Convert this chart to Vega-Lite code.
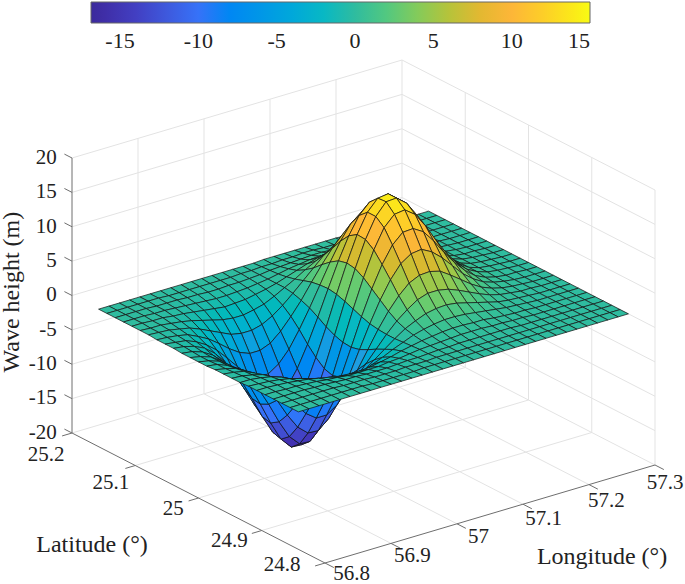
{"$schema":"https://vega.github.io/schema/vega-lite/v6.json","width":685,"height":584,"padding":0,"autosize":{"type":"none"},"background":"white","config":{"view":{"stroke":null},"text":{"font":"Liberation Serif","fontSize":21,"color":"#222222"}},
"datasets":{
"frame":[
{"kind":"grid","lon1":56.8,"lat1":25.2,"z1":-15,"lon2":57.3,"lat2":25.2,"z2":-15},{"kind":"grid","lon1":56.8,"lat1":25.2,"z1":-10,"lon2":57.3,"lat2":25.2,"z2":-10},{"kind":"grid","lon1":56.8,"lat1":25.2,"z1":-5,"lon2":57.3,"lat2":25.2,"z2":-5},{"kind":"grid","lon1":56.8,"lat1":25.2,"z1":0,"lon2":57.3,"lat2":25.2,"z2":0},{"kind":"grid","lon1":56.8,"lat1":25.2,"z1":5,"lon2":57.3,"lat2":25.2,"z2":5},{"kind":"grid","lon1":56.8,"lat1":25.2,"z1":10,"lon2":57.3,"lat2":25.2,"z2":10},{"kind":"grid","lon1":56.8,"lat1":25.2,"z1":15,"lon2":57.3,"lat2":25.2,"z2":15},{"kind":"grid","lon1":56.8,"lat1":25.2,"z1":20,"lon2":57.3,"lat2":25.2,"z2":20},
{"kind":"grid","lon1":57.3,"lat1":25.2,"z1":-15,"lon2":57.3,"lat2":24.8,"z2":-15},{"kind":"grid","lon1":57.3,"lat1":25.2,"z1":-10,"lon2":57.3,"lat2":24.8,"z2":-10},{"kind":"grid","lon1":57.3,"lat1":25.2,"z1":-5,"lon2":57.3,"lat2":24.8,"z2":-5},{"kind":"grid","lon1":57.3,"lat1":25.2,"z1":0,"lon2":57.3,"lat2":24.8,"z2":0},{"kind":"grid","lon1":57.3,"lat1":25.2,"z1":5,"lon2":57.3,"lat2":24.8,"z2":5},{"kind":"grid","lon1":57.3,"lat1":25.2,"z1":10,"lon2":57.3,"lat2":24.8,"z2":10},{"kind":"grid","lon1":57.3,"lat1":25.2,"z1":15,"lon2":57.3,"lat2":24.8,"z2":15},{"kind":"grid","lon1":57.3,"lat1":25.2,"z1":20,"lon2":57.3,"lat2":24.8,"z2":20},
{"kind":"grid","lon1":56.9,"lat1":25.2,"z1":-20,"lon2":56.9,"lat2":25.2,"z2":20},{"kind":"grid","lon1":57,"lat1":25.2,"z1":-20,"lon2":57,"lat2":25.2,"z2":20},{"kind":"grid","lon1":57.1,"lat1":25.2,"z1":-20,"lon2":57.1,"lat2":25.2,"z2":20},{"kind":"grid","lon1":57.2,"lat1":25.2,"z1":-20,"lon2":57.2,"lat2":25.2,"z2":20},{"kind":"grid","lon1":57.3,"lat1":25.2,"z1":-20,"lon2":57.3,"lat2":25.2,"z2":20},
{"kind":"grid","lon1":57.3,"lat1":25.1,"z1":-20,"lon2":57.3,"lat2":25.1,"z2":20},{"kind":"grid","lon1":57.3,"lat1":25,"z1":-20,"lon2":57.3,"lat2":25,"z2":20},{"kind":"grid","lon1":57.3,"lat1":24.9,"z1":-20,"lon2":57.3,"lat2":24.9,"z2":20},{"kind":"grid","lon1":57.3,"lat1":24.8,"z1":-20,"lon2":57.3,"lat2":24.8,"z2":20},
{"kind":"grid","lon1":56.9,"lat1":25.2,"z1":-20,"lon2":56.9,"lat2":24.8,"z2":-20},{"kind":"grid","lon1":57,"lat1":25.2,"z1":-20,"lon2":57,"lat2":24.8,"z2":-20},{"kind":"grid","lon1":57.1,"lat1":25.2,"z1":-20,"lon2":57.1,"lat2":24.8,"z2":-20},{"kind":"grid","lon1":57.2,"lat1":25.2,"z1":-20,"lon2":57.2,"lat2":24.8,"z2":-20},{"kind":"grid","lon1":57.3,"lat1":25.2,"z1":-20,"lon2":57.3,"lat2":24.8,"z2":-20},
{"kind":"grid","lon1":56.8,"lat1":25.2,"z1":-20,"lon2":57.3,"lat2":25.2,"z2":-20},{"kind":"grid","lon1":56.8,"lat1":25.1,"z1":-20,"lon2":57.3,"lat2":25.1,"z2":-20},{"kind":"grid","lon1":56.8,"lat1":25,"z1":-20,"lon2":57.3,"lat2":25,"z2":-20},{"kind":"grid","lon1":56.8,"lat1":24.9,"z1":-20,"lon2":57.3,"lat2":24.9,"z2":-20},
{"kind":"axis","lon1":56.8,"lat1":25.2,"z1":-20,"lon2":56.8,"lat2":25.2,"z2":20},{"kind":"axis","lon1":56.8,"lat1":25.2,"z1":-20,"lon2":56.8,"lat2":24.8,"z2":-20},{"kind":"axis","lon1":56.8,"lat1":24.8,"z1":-20,"lon2":57.3,"lat2":24.8,"z2":-20},
{"kind":"axis","lon1":56.8,"lat1":25.2,"z1":-20,"lon2":56.8,"lat2":25.212,"z2":-20},{"kind":"axis","lon1":56.8,"lat1":25.2,"z1":-15,"lon2":56.8,"lat2":25.212,"z2":-15},{"kind":"axis","lon1":56.8,"lat1":25.2,"z1":-10,"lon2":56.8,"lat2":25.212,"z2":-10},{"kind":"axis","lon1":56.8,"lat1":25.2,"z1":-5,"lon2":56.8,"lat2":25.212,"z2":-5},{"kind":"axis","lon1":56.8,"lat1":25.2,"z1":0,"lon2":56.8,"lat2":25.212,"z2":0},{"kind":"axis","lon1":56.8,"lat1":25.2,"z1":5,"lon2":56.8,"lat2":25.212,"z2":5},{"kind":"axis","lon1":56.8,"lat1":25.2,"z1":10,"lon2":56.8,"lat2":25.212,"z2":10},{"kind":"axis","lon1":56.8,"lat1":25.2,"z1":15,"lon2":56.8,"lat2":25.212,"z2":15},{"kind":"axis","lon1":56.8,"lat1":25.2,"z1":20,"lon2":56.8,"lat2":25.212,"z2":20},
{"kind":"axis","lon1":56.8,"lat1":25.2,"z1":-20,"lon2":56.785,"lat2":25.2,"z2":-20},{"kind":"axis","lon1":56.8,"lat1":25.1,"z1":-20,"lon2":56.785,"lat2":25.1,"z2":-20},{"kind":"axis","lon1":56.8,"lat1":25,"z1":-20,"lon2":56.785,"lat2":25,"z2":-20},{"kind":"axis","lon1":56.8,"lat1":24.9,"z1":-20,"lon2":56.785,"lat2":24.9,"z2":-20},{"kind":"axis","lon1":56.8,"lat1":24.8,"z1":-20,"lon2":56.785,"lat2":24.8,"z2":-20},
{"kind":"axis","lon1":56.8,"lat1":24.8,"z1":-20,"lon2":56.8,"lat2":24.786,"z2":-20},{"kind":"axis","lon1":56.9,"lat1":24.8,"z1":-20,"lon2":56.9,"lat2":24.786,"z2":-20},{"kind":"axis","lon1":57,"lat1":24.8,"z1":-20,"lon2":57,"lat2":24.786,"z2":-20},{"kind":"axis","lon1":57.1,"lat1":24.8,"z1":-20,"lon2":57.1,"lat2":24.786,"z2":-20},{"kind":"axis","lon1":57.2,"lat1":24.8,"z1":-20,"lon2":57.2,"lat2":24.786,"z2":-20},{"kind":"axis","lon1":57.3,"lat1":24.8,"z1":-20,"lon2":57.3,"lat2":24.786,"z2":-20}
],
"labels":[
{"t":"25.2","lon":56.734,"lat":25.172,"h":-20},{"t":"25.1","lon":56.744,"lat":25.08,"h":-20},{"t":"25","lon":56.755,"lat":24.993,"h":-20},{"t":"24.9","lon":56.749,"lat":24.898,"h":-20},{"t":"24.8","lon":56.755,"lat":24.821,"h":-20},
{"t":"56.8","lon":56.806,"lat":24.764,"h":-20},{"t":"56.9","lon":56.897,"lat":24.763,"h":-20},{"t":"57","lon":56.996,"lat":24.762,"h":-20},{"t":"57.1","lon":57.092,"lat":24.759,"h":-20},{"t":"57.2","lon":57.186,"lat":24.758,"h":-20},{"t":"57.3","lon":57.276,"lat":24.759,"h":-20}],
"titles":[{"t":"Latitude (°)","lon":56.61,"lat":24.97,"h":-20},{"t":"Longitude (°)","lon":57.077,"lat":24.651,"h":-20}],
"zlabels":[{"t":"20","lon":56.8,"lat":25.224,"h":18.9},{"t":"15","lon":56.8,"lat":25.224,"h":13.9},{"t":"10","lon":56.8,"lat":25.224,"h":8.9},{"t":"5","lon":56.8,"lat":25.224,"h":3.9},{"t":"0","lon":56.8,"lat":25.224,"h":-1.1},{"t":"-5","lon":56.8,"lat":25.224,"h":-6.1},{"t":"-10","lon":56.8,"lat":25.224,"h":-11.1},{"t":"-15","lon":56.8,"lat":25.224,"h":-16.1},{"t":"-20","lon":56.8,"lat":25.224,"h":-21.1}],
"ztitle":[{"t":"Wave height (m)","lon":56.8,"lat":25.295,"h":-4}],
"surface":[
{"i":32,"j":0,"z":0},{"i":31,"j":0,"z":0},{"i":30,"j":0,"z":0},{"i":29,"j":0,"z":0},{"i":28,"j":0,"z":0},{"i":27,"j":0,"z":0},{"i":26,"j":0,"z":0},{"i":25,"j":0,"z":0},{"i":24,"j":0,"z":0},{"i":23,"j":0,"z":0.1},{"i":22,"j":0,"z":0.1},{"i":21,"j":0,"z":0.1},{"i":20,"j":0,"z":0.1},{"i":19,"j":0,"z":0.1},{"i":18,"j":0,"z":0.1},{"i":17,"j":0,"z":0.1},{"i":16,"j":0,"z":0.1},{"i":15,"j":0,"z":0},{"i":14,"j":0,"z":0},{"i":13,"j":0,"z":0},{"i":12,"j":0,"z":0},{"i":11,"j":0,"z":0},{"i":10,"j":0,"z":0},{"i":9,"j":0,"z":0},{"i":8,"j":0,"z":0},{"i":7,"j":0,"z":0},{"i":6,"j":0,"z":0},{"i":5,"j":0,"z":0},{"i":4,"j":0,"z":0},{"i":3,"j":0,"z":0},{"i":2,"j":0,"z":0},{"i":1,"j":0,"z":0},{"i":0,"j":0,"z":0},
{"i":32,"j":1,"z":0},{"i":31,"j":1,"z":0},{"i":30,"j":1,"z":0},{"i":29,"j":1,"z":0},{"i":28,"j":1,"z":0},{"i":27,"j":1,"z":0},{"i":26,"j":1,"z":0},{"i":25,"j":1,"z":0.1},{"i":24,"j":1,"z":0.1},{"i":23,"j":1,"z":0.1},{"i":22,"j":1,"z":0.2},{"i":21,"j":1,"z":0.2},{"i":20,"j":1,"z":0.3},{"i":19,"j":1,"z":0.3},{"i":18,"j":1,"z":0.2},{"i":17,"j":1,"z":0.2},{"i":16,"j":1,"z":0.1},{"i":15,"j":1,"z":0.1},{"i":14,"j":1,"z":0},{"i":13,"j":1,"z":0},{"i":12,"j":1,"z":-0.1},{"i":11,"j":1,"z":-0.1},{"i":10,"j":1,"z":-0.1},{"i":9,"j":1,"z":-0.1},{"i":8,"j":1,"z":-0.1},{"i":7,"j":1,"z":-0.1},{"i":6,"j":1,"z":-0.1},{"i":5,"j":1,"z":0},{"i":4,"j":1,"z":0},{"i":3,"j":1,"z":0},{"i":2,"j":1,"z":0},{"i":1,"j":1,"z":0},{"i":0,"j":1,"z":0},
{"i":32,"j":2,"z":0},{"i":31,"j":2,"z":0},{"i":30,"j":2,"z":0},{"i":29,"j":2,"z":0},{"i":28,"j":2,"z":0},{"i":27,"j":2,"z":0},{"i":26,"j":2,"z":0.1},{"i":25,"j":2,"z":0.1},{"i":24,"j":2,"z":0.2},{"i":23,"j":2,"z":0.3},{"i":22,"j":2,"z":0.4},{"i":21,"j":2,"z":0.5},{"i":20,"j":2,"z":0.6},{"i":19,"j":2,"z":0.6},{"i":18,"j":2,"z":0.5},{"i":17,"j":2,"z":0.4},{"i":16,"j":2,"z":0.3},{"i":15,"j":2,"z":0.2},{"i":14,"j":2,"z":0},{"i":13,"j":2,"z":-0.1},{"i":12,"j":2,"z":-0.2},{"i":11,"j":2,"z":-0.2},{"i":10,"j":2,"z":-0.3},{"i":9,"j":2,"z":-0.3},{"i":8,"j":2,"z":-0.2},{"i":7,"j":2,"z":-0.2},{"i":6,"j":2,"z":-0.1},{"i":5,"j":2,"z":-0.1},{"i":4,"j":2,"z":-0.1},{"i":3,"j":2,"z":0},{"i":2,"j":2,"z":0},{"i":1,"j":2,"z":0},{"i":0,"j":2,"z":0},
{"i":32,"j":3,"z":0},{"i":31,"j":3,"z":0},{"i":30,"j":3,"z":0},{"i":29,"j":3,"z":0},{"i":28,"j":3,"z":0},{"i":27,"j":3,"z":0.1},{"i":26,"j":3,"z":0.2},{"i":25,"j":3,"z":0.3},{"i":24,"j":3,"z":0.4},{"i":23,"j":3,"z":0.6},{"i":22,"j":3,"z":0.9},{"i":21,"j":3,"z":1},{"i":20,"j":3,"z":1.2},{"i":19,"j":3,"z":1.1},{"i":18,"j":3,"z":1},{"i":17,"j":3,"z":0.8},{"i":16,"j":3,"z":0.6},{"i":15,"j":3,"z":0.3},{"i":14,"j":3,"z":0},{"i":13,"j":3,"z":-0.2},{"i":12,"j":3,"z":-0.4},{"i":11,"j":3,"z":-0.5},{"i":10,"j":3,"z":-0.6},{"i":9,"j":3,"z":-0.6},{"i":8,"j":3,"z":-0.5},{"i":7,"j":3,"z":-0.4},{"i":6,"j":3,"z":-0.3},{"i":5,"j":3,"z":-0.2},{"i":4,"j":3,"z":-0.1},{"i":3,"j":3,"z":-0.1},{"i":2,"j":3,"z":0},{"i":1,"j":3,"z":0},{"i":0,"j":3,"z":0},
{"i":32,"j":4,"z":0},{"i":31,"j":4,"z":0},{"i":30,"j":4,"z":0},{"i":29,"j":4,"z":0},{"i":28,"j":4,"z":0.1},{"i":27,"j":4,"z":0.1},{"i":26,"j":4,"z":0.3},{"i":25,"j":4,"z":0.5},{"i":24,"j":4,"z":0.8},{"i":23,"j":4,"z":1.2},{"i":22,"j":4,"z":1.6},{"i":21,"j":4,"z":2},{"i":20,"j":4,"z":2.2},{"i":19,"j":4,"z":2.1},{"i":18,"j":4,"z":1.9},{"i":17,"j":4,"z":1.5},{"i":16,"j":4,"z":1},{"i":15,"j":4,"z":0.5},{"i":14,"j":4,"z":0},{"i":13,"j":4,"z":-0.4},{"i":12,"j":4,"z":-0.7},{"i":11,"j":4,"z":-1},{"i":10,"j":4,"z":-1.1},{"i":9,"j":4,"z":-1.2},{"i":8,"j":4,"z":-1},{"i":7,"j":4,"z":-0.8},{"i":6,"j":4,"z":-0.6},{"i":5,"j":4,"z":-0.4},{"i":4,"j":4,"z":-0.3},{"i":3,"j":4,"z":-0.1},{"i":2,"j":4,"z":-0.1},{"i":1,"j":4,"z":0},{"i":0,"j":4,"z":0},
{"i":32,"j":5,"z":0},{"i":31,"j":5,"z":0},{"i":30,"j":5,"z":0},{"i":29,"j":5,"z":0.1},{"i":28,"j":5,"z":0.1},{"i":27,"j":5,"z":0.2},{"i":26,"j":5,"z":0.5},{"i":25,"j":5,"z":0.9},{"i":24,"j":5,"z":1.4},{"i":23,"j":5,"z":2},{"i":22,"j":5,"z":2.7},{"i":21,"j":5,"z":3.3},{"i":20,"j":5,"z":3.6},{"i":19,"j":5,"z":3.6},{"i":18,"j":5,"z":3.2},{"i":17,"j":5,"z":2.5},{"i":16,"j":5,"z":1.7},{"i":15,"j":5,"z":0.8},{"i":14,"j":5,"z":0},{"i":13,"j":5,"z":-0.8},{"i":12,"j":5,"z":-1.5},{"i":11,"j":5,"z":-1.9},{"i":10,"j":5,"z":-2.2},{"i":9,"j":5,"z":-2.2},{"i":8,"j":5,"z":-2},{"i":7,"j":5,"z":-1.6},{"i":6,"j":5,"z":-1.2},{"i":5,"j":5,"z":-0.8},{"i":4,"j":5,"z":-0.5},{"i":3,"j":5,"z":-0.3},{"i":2,"j":5,"z":-0.1},{"i":1,"j":5,"z":-0.1},{"i":0,"j":5,"z":0},
{"i":32,"j":6,"z":0},{"i":31,"j":6,"z":0},{"i":30,"j":6,"z":0},{"i":29,"j":6,"z":0.1},{"i":28,"j":6,"z":0.2},{"i":27,"j":6,"z":0.4},{"i":26,"j":6,"z":0.7},{"i":25,"j":6,"z":1.3},{"i":24,"j":6,"z":2.2},{"i":23,"j":6,"z":3.2},{"i":22,"j":6,"z":4.3},{"i":21,"j":6,"z":5.2},{"i":20,"j":6,"z":5.7},{"i":19,"j":6,"z":5.6},{"i":18,"j":6,"z":5},{"i":17,"j":6,"z":4},{"i":16,"j":6,"z":2.6},{"i":15,"j":6,"z":1.2},{"i":14,"j":6,"z":-0.2},{"i":13,"j":6,"z":-1.5},{"i":12,"j":6,"z":-2.6},{"i":11,"j":6,"z":-3.4},{"i":10,"j":6,"z":-3.8},{"i":9,"j":6,"z":-3.8},{"i":8,"j":6,"z":-3.5},{"i":7,"j":6,"z":-2.8},{"i":6,"j":6,"z":-2.1},{"i":5,"j":6,"z":-1.4},{"i":4,"j":6,"z":-0.8},{"i":3,"j":6,"z":-0.5},{"i":2,"j":6,"z":-0.2},{"i":1,"j":6,"z":-0.1},{"i":0,"j":6,"z":0},
{"i":32,"j":7,"z":0},{"i":31,"j":7,"z":0},{"i":30,"j":7,"z":0},{"i":29,"j":7,"z":0.1},{"i":28,"j":7,"z":0.3},{"i":27,"j":7,"z":0.5},{"i":26,"j":7,"z":1.1},{"i":25,"j":7,"z":1.9},{"i":24,"j":7,"z":3.1},{"i":23,"j":7,"z":4.6},{"i":22,"j":7,"z":6.1},{"i":21,"j":7,"z":7.4},{"i":20,"j":7,"z":8.2},{"i":19,"j":7,"z":8.1},{"i":18,"j":7,"z":7.2},{"i":17,"j":7,"z":5.6},{"i":16,"j":7,"z":3.7},{"i":15,"j":7,"z":1.6},{"i":14,"j":7,"z":-0.6},{"i":13,"j":7,"z":-2.5},{"i":12,"j":7,"z":-4.2},{"i":11,"j":7,"z":-5.5},{"i":10,"j":7,"z":-6.1},{"i":9,"j":7,"z":-6.1},{"i":8,"j":7,"z":-5.5},{"i":7,"j":7,"z":-4.5},{"i":6,"j":7,"z":-3.3},{"i":5,"j":7,"z":-2.2},{"i":4,"j":7,"z":-1.4},{"i":3,"j":7,"z":-0.7},{"i":2,"j":7,"z":-0.4},{"i":1,"j":7,"z":-0.2},{"i":0,"j":7,"z":-0.1},
{"i":32,"j":8,"z":0},{"i":31,"j":8,"z":0},{"i":30,"j":8,"z":0.1},{"i":29,"j":8,"z":0.1},{"i":28,"j":8,"z":0.3},{"i":27,"j":8,"z":0.7},{"i":26,"j":8,"z":1.4},{"i":25,"j":8,"z":2.5},{"i":24,"j":8,"z":4.1},{"i":23,"j":8,"z":6},{"i":22,"j":8,"z":8},{"i":21,"j":8,"z":9.7},{"i":20,"j":8,"z":10.7},{"i":19,"j":8,"z":10.6},{"i":18,"j":8,"z":9.4},{"i":17,"j":8,"z":7.3},{"i":16,"j":8,"z":4.7},{"i":15,"j":8,"z":1.8},{"i":14,"j":8,"z":-1.1},{"i":13,"j":8,"z":-3.8},{"i":12,"j":8,"z":-6.2},{"i":11,"j":8,"z":-7.9},{"i":10,"j":8,"z":-8.9},{"i":9,"j":8,"z":-8.9},{"i":8,"j":8,"z":-8},{"i":7,"j":8,"z":-6.5},{"i":6,"j":8,"z":-4.8},{"i":5,"j":8,"z":-3.2},{"i":4,"j":8,"z":-2},{"i":3,"j":8,"z":-1.1},{"i":2,"j":8,"z":-0.5},{"i":1,"j":8,"z":-0.3},{"i":0,"j":8,"z":-0.1},
{"i":32,"j":9,"z":0},{"i":31,"j":9,"z":0},{"i":30,"j":9,"z":0.1},{"i":29,"j":9,"z":0.2},{"i":28,"j":9,"z":0.4},{"i":27,"j":9,"z":0.9},{"i":26,"j":9,"z":1.7},{"i":25,"j":9,"z":3},{"i":24,"j":9,"z":4.9},{"i":23,"j":9,"z":7.2},{"i":22,"j":9,"z":9.7},{"i":21,"j":9,"z":11.7},{"i":20,"j":9,"z":12.8},{"i":19,"j":9,"z":12.7},{"i":18,"j":9,"z":11.2},{"i":17,"j":9,"z":8.7},{"i":16,"j":9,"z":5.5},{"i":15,"j":9,"z":1.9},{"i":14,"j":9,"z":-1.8},{"i":13,"j":9,"z":-5.3},{"i":12,"j":9,"z":-8.4},{"i":11,"j":9,"z":-10.7},{"i":10,"j":9,"z":-11.9},{"i":9,"j":9,"z":-11.9},{"i":8,"j":9,"z":-10.7},{"i":7,"j":9,"z":-8.7},{"i":6,"j":9,"z":-6.5},{"i":5,"j":9,"z":-4.3},{"i":4,"j":9,"z":-2.6},{"i":3,"j":9,"z":-1.4},{"i":2,"j":9,"z":-0.7},{"i":1,"j":9,"z":-0.3},{"i":0,"j":9,"z":-0.1},
{"i":32,"j":10,"z":0},{"i":31,"j":10,"z":0},{"i":30,"j":10,"z":0.1},{"i":29,"j":10,"z":0.2},{"i":28,"j":10,"z":0.4},{"i":27,"j":10,"z":0.9},{"i":26,"j":10,"z":1.9},{"i":25,"j":10,"z":3.3},{"i":24,"j":10,"z":5.4},{"i":23,"j":10,"z":7.9},{"i":22,"j":10,"z":10.6},{"i":21,"j":10,"z":12.9},{"i":20,"j":10,"z":14.1},{"i":19,"j":10,"z":13.9},{"i":18,"j":10,"z":12.3},{"i":17,"j":10,"z":9.5},{"i":16,"j":10,"z":5.8},{"i":15,"j":10,"z":1.7},{"i":14,"j":10,"z":-2.6},{"i":13,"j":10,"z":-6.6},{"i":12,"j":10,"z":-10.3},{"i":11,"j":10,"z":-13.1},{"i":10,"j":10,"z":-14.6},{"i":9,"j":10,"z":-14.5},{"i":8,"j":10,"z":-13.1},{"i":7,"j":10,"z":-10.7},{"i":6,"j":10,"z":-7.9},{"i":5,"j":10,"z":-5.3},{"i":4,"j":10,"z":-3.2},{"i":3,"j":10,"z":-1.8},{"i":2,"j":10,"z":-0.9},{"i":1,"j":10,"z":-0.4},{"i":0,"j":10,"z":-0.2},
{"i":32,"j":11,"z":0},{"i":31,"j":11,"z":0},{"i":30,"j":11,"z":0.1},{"i":29,"j":11,"z":0.2},{"i":28,"j":11,"z":0.4},{"i":27,"j":11,"z":0.9},{"i":26,"j":11,"z":1.9},{"i":25,"j":11,"z":3.3},{"i":24,"j":11,"z":5.4},{"i":23,"j":11,"z":7.9},{"i":22,"j":11,"z":10.7},{"i":21,"j":11,"z":12.9},{"i":20,"j":11,"z":14.1},{"i":19,"j":11,"z":14},{"i":18,"j":11,"z":12.3},{"i":17,"j":11,"z":9.4},{"i":16,"j":11,"z":5.6},{"i":15,"j":11,"z":1.3},{"i":14,"j":11,"z":-3.2},{"i":13,"j":11,"z":-7.6},{"i":12,"j":11,"z":-11.6},{"i":11,"j":11,"z":-14.6},{"i":10,"j":11,"z":-16.3},{"i":9,"j":11,"z":-16.2},{"i":8,"j":11,"z":-14.6},{"i":7,"j":11,"z":-11.9},{"i":6,"j":11,"z":-8.8},{"i":5,"j":11,"z":-5.9},{"i":4,"j":11,"z":-3.6},{"i":3,"j":11,"z":-2},{"i":2,"j":11,"z":-1},{"i":1,"j":11,"z":-0.5},{"i":0,"j":11,"z":-0.2},
{"i":32,"j":12,"z":0},{"i":31,"j":12,"z":0},{"i":30,"j":12,"z":0.1},{"i":29,"j":12,"z":0.2},{"i":28,"j":12,"z":0.4},{"i":27,"j":12,"z":0.9},{"i":26,"j":12,"z":1.7},{"i":25,"j":12,"z":3.1},{"i":24,"j":12,"z":5},{"i":23,"j":12,"z":7.3},{"i":22,"j":12,"z":9.8},{"i":21,"j":12,"z":11.9},{"i":20,"j":12,"z":13},{"i":19,"j":12,"z":12.8},{"i":18,"j":12,"z":11.3},{"i":17,"j":12,"z":8.5},{"i":16,"j":12,"z":4.9},{"i":15,"j":12,"z":0.8},{"i":14,"j":12,"z":-3.6},{"i":13,"j":12,"z":-8},{"i":12,"j":12,"z":-12},{"i":11,"j":12,"z":-15},{"i":10,"j":12,"z":-16.7},{"i":9,"j":12,"z":-16.6},{"i":8,"j":12,"z":-15},{"i":7,"j":12,"z":-12.2},{"i":6,"j":12,"z":-9},{"i":5,"j":12,"z":-6},{"i":4,"j":12,"z":-3.7},{"i":3,"j":12,"z":-2},{"i":2,"j":12,"z":-1},{"i":1,"j":12,"z":-0.5},{"i":0,"j":12,"z":-0.2},
{"i":32,"j":13,"z":0},{"i":31,"j":13,"z":0},{"i":30,"j":13,"z":0.1},{"i":29,"j":13,"z":0.1},{"i":28,"j":13,"z":0.3},{"i":27,"j":13,"z":0.7},{"i":26,"j":13,"z":1.4},{"i":25,"j":13,"z":2.6},{"i":24,"j":13,"z":4.2},{"i":23,"j":13,"z":6.1},{"i":22,"j":13,"z":8.2},{"i":21,"j":13,"z":10},{"i":20,"j":13,"z":10.9},{"i":19,"j":13,"z":10.8},{"i":18,"j":13,"z":9.4},{"i":17,"j":13,"z":7},{"i":16,"j":13,"z":3.9},{"i":15,"j":13,"z":0.3},{"i":14,"j":13,"z":-3.7},{"i":13,"j":13,"z":-7.6},{"i":12,"j":13,"z":-11.3},{"i":11,"j":13,"z":-14.1},{"i":10,"j":13,"z":-15.6},{"i":9,"j":13,"z":-15.5},{"i":8,"j":13,"z":-14},{"i":7,"j":13,"z":-11.4},{"i":6,"j":13,"z":-8.4},{"i":5,"j":13,"z":-5.7},{"i":4,"j":13,"z":-3.4},{"i":3,"j":13,"z":-1.9},{"i":2,"j":13,"z":-1},{"i":1,"j":13,"z":-0.4},{"i":0,"j":13,"z":-0.2},
{"i":32,"j":14,"z":0},{"i":31,"j":14,"z":0},{"i":30,"j":14,"z":0},{"i":29,"j":14,"z":0.1},{"i":28,"j":14,"z":0.3},{"i":27,"j":14,"z":0.6},{"i":26,"j":14,"z":1.1},{"i":25,"j":14,"z":2},{"i":24,"j":14,"z":3.2},{"i":23,"j":14,"z":4.8},{"i":22,"j":14,"z":6.4},{"i":21,"j":14,"z":7.7},{"i":20,"j":14,"z":8.5},{"i":19,"j":14,"z":8.3},{"i":18,"j":14,"z":7.3},{"i":17,"j":14,"z":5.4},{"i":16,"j":14,"z":2.9},{"i":15,"j":14,"z":-0.1},{"i":14,"j":14,"z":-3.4},{"i":13,"j":14,"z":-6.7},{"i":12,"j":14,"z":-9.8},{"i":11,"j":14,"z":-12.1},{"i":10,"j":14,"z":-13.4},{"i":9,"j":14,"z":-13.3},{"i":8,"j":14,"z":-12},{"i":7,"j":14,"z":-9.8},{"i":6,"j":14,"z":-7.2},{"i":5,"j":14,"z":-4.9},{"i":4,"j":14,"z":-2.9},{"i":3,"j":14,"z":-1.6},{"i":2,"j":14,"z":-0.8},{"i":1,"j":14,"z":-0.4},{"i":0,"j":14,"z":-0.1},
{"i":32,"j":15,"z":0},{"i":31,"j":15,"z":0},{"i":30,"j":15,"z":0},{"i":29,"j":15,"z":0.1},{"i":28,"j":15,"z":0.2},{"i":27,"j":15,"z":0.4},{"i":26,"j":15,"z":0.8},{"i":25,"j":15,"z":1.4},{"i":24,"j":15,"z":2.3},{"i":23,"j":15,"z":3.4},{"i":22,"j":15,"z":4.5},{"i":21,"j":15,"z":5.5},{"i":20,"j":15,"z":5.9},{"i":19,"j":15,"z":5.8},{"i":18,"j":15,"z":5.1},{"i":17,"j":15,"z":3.7},{"i":16,"j":15,"z":1.9},{"i":15,"j":15,"z":-0.3},{"i":14,"j":15,"z":-2.8},{"i":13,"j":15,"z":-5.3},{"i":12,"j":15,"z":-7.7},{"i":11,"j":15,"z":-9.5},{"i":10,"j":15,"z":-10.5},{"i":9,"j":15,"z":-10.5},{"i":8,"j":15,"z":-9.4},{"i":7,"j":15,"z":-7.7},{"i":6,"j":15,"z":-5.7},{"i":5,"j":15,"z":-3.8},{"i":4,"j":15,"z":-2.3},{"i":3,"j":15,"z":-1.3},{"i":2,"j":15,"z":-0.6},{"i":1,"j":15,"z":-0.3},{"i":0,"j":15,"z":-0.1},
{"i":32,"j":16,"z":0},{"i":31,"j":16,"z":0},{"i":30,"j":16,"z":0},{"i":29,"j":16,"z":0.1},{"i":28,"j":16,"z":0.1},{"i":27,"j":16,"z":0.3},{"i":26,"j":16,"z":0.5},{"i":25,"j":16,"z":0.9},{"i":24,"j":16,"z":1.5},{"i":23,"j":16,"z":2.2},{"i":22,"j":16,"z":2.9},{"i":21,"j":16,"z":3.5},{"i":20,"j":16,"z":3.8},{"i":19,"j":16,"z":3.8},{"i":18,"j":16,"z":3.3},{"i":17,"j":16,"z":2.3},{"i":16,"j":16,"z":1.1},{"i":15,"j":16,"z":-0.4},{"i":14,"j":16,"z":-2.1},{"i":13,"j":16,"z":-3.8},{"i":12,"j":16,"z":-5.5},{"i":11,"j":16,"z":-6.8},{"i":10,"j":16,"z":-7.5},{"i":9,"j":16,"z":-7.5},{"i":8,"j":16,"z":-6.7},{"i":7,"j":16,"z":-5.5},{"i":6,"j":16,"z":-4.1},{"i":5,"j":16,"z":-2.7},{"i":4,"j":16,"z":-1.7},{"i":3,"j":16,"z":-0.9},{"i":2,"j":16,"z":-0.5},{"i":1,"j":16,"z":-0.2},{"i":0,"j":16,"z":-0.1},
{"i":32,"j":17,"z":0},{"i":31,"j":17,"z":0},{"i":30,"j":17,"z":0},{"i":29,"j":17,"z":0},{"i":28,"j":17,"z":0.1},{"i":27,"j":17,"z":0.2},{"i":26,"j":17,"z":0.3},{"i":25,"j":17,"z":0.5},{"i":24,"j":17,"z":0.9},{"i":23,"j":17,"z":1.3},{"i":22,"j":17,"z":1.7},{"i":21,"j":17,"z":2.1},{"i":20,"j":17,"z":2.3},{"i":19,"j":17,"z":2.2},{"i":18,"j":17,"z":1.9},{"i":17,"j":17,"z":1.3},{"i":16,"j":17,"z":0.6},{"i":15,"j":17,"z":-0.4},{"i":14,"j":17,"z":-1.5},{"i":13,"j":17,"z":-2.6},{"i":12,"j":17,"z":-3.7},{"i":11,"j":17,"z":-4.5},{"i":10,"j":17,"z":-5},{"i":9,"j":17,"z":-5},{"i":8,"j":17,"z":-4.5},{"i":7,"j":17,"z":-3.6},{"i":6,"j":17,"z":-2.7},{"i":5,"j":17,"z":-1.8},{"i":4,"j":17,"z":-1.1},{"i":3,"j":17,"z":-0.6},{"i":2,"j":17,"z":-0.3},{"i":1,"j":17,"z":-0.1},{"i":0,"j":17,"z":-0.1},
{"i":32,"j":18,"z":0},{"i":31,"j":18,"z":0},{"i":30,"j":18,"z":0},{"i":29,"j":18,"z":0},{"i":28,"j":18,"z":0},{"i":27,"j":18,"z":0.1},{"i":26,"j":18,"z":0.2},{"i":25,"j":18,"z":0.3},{"i":24,"j":18,"z":0.5},{"i":23,"j":18,"z":0.7},{"i":22,"j":18,"z":0.9},{"i":21,"j":18,"z":1.1},{"i":20,"j":18,"z":1.2},{"i":19,"j":18,"z":1.2},{"i":18,"j":18,"z":1},{"i":17,"j":18,"z":0.7},{"i":16,"j":18,"z":0.3},{"i":15,"j":18,"z":-0.3},{"i":14,"j":18,"z":-0.9},{"i":13,"j":18,"z":-1.6},{"i":12,"j":18,"z":-2.2},{"i":11,"j":18,"z":-2.8},{"i":10,"j":18,"z":-3},{"i":9,"j":18,"z":-3},{"i":8,"j":18,"z":-2.7},{"i":7,"j":18,"z":-2.2},{"i":6,"j":18,"z":-1.6},{"i":5,"j":18,"z":-1.1},{"i":4,"j":18,"z":-0.7},{"i":3,"j":18,"z":-0.4},{"i":2,"j":18,"z":-0.2},{"i":1,"j":18,"z":-0.1},{"i":0,"j":18,"z":0},
{"i":32,"j":19,"z":0},{"i":31,"j":19,"z":0},{"i":30,"j":19,"z":0},{"i":29,"j":19,"z":0},{"i":28,"j":19,"z":0},{"i":27,"j":19,"z":0},{"i":26,"j":19,"z":0.1},{"i":25,"j":19,"z":0.1},{"i":24,"j":19,"z":0.2},{"i":23,"j":19,"z":0.3},{"i":22,"j":19,"z":0.5},{"i":21,"j":19,"z":0.5},{"i":20,"j":19,"z":0.6},{"i":19,"j":19,"z":0.6},{"i":18,"j":19,"z":0.5},{"i":17,"j":19,"z":0.3},{"i":16,"j":19,"z":0.1},{"i":15,"j":19,"z":-0.2},{"i":14,"j":19,"z":-0.5},{"i":13,"j":19,"z":-0.9},{"i":12,"j":19,"z":-1.2},{"i":11,"j":19,"z":-1.5},{"i":10,"j":19,"z":-1.6},{"i":9,"j":19,"z":-1.6},{"i":8,"j":19,"z":-1.5},{"i":7,"j":19,"z":-1.2},{"i":6,"j":19,"z":-0.9},{"i":5,"j":19,"z":-0.6},{"i":4,"j":19,"z":-0.4},{"i":3,"j":19,"z":-0.2},{"i":2,"j":19,"z":-0.1},{"i":1,"j":19,"z":0},{"i":0,"j":19,"z":0},
{"i":32,"j":20,"z":0},{"i":31,"j":20,"z":0},{"i":30,"j":20,"z":0},{"i":29,"j":20,"z":0},{"i":28,"j":20,"z":0},{"i":27,"j":20,"z":0},{"i":26,"j":20,"z":0},{"i":25,"j":20,"z":0.1},{"i":24,"j":20,"z":0.1},{"i":23,"j":20,"z":0.2},{"i":22,"j":20,"z":0.2},{"i":21,"j":20,"z":0.3},{"i":20,"j":20,"z":0.3},{"i":19,"j":20,"z":0.3},{"i":18,"j":20,"z":0.2},{"i":17,"j":20,"z":0.1},{"i":16,"j":20,"z":0},{"i":15,"j":20,"z":-0.1},{"i":14,"j":20,"z":-0.3},{"i":13,"j":20,"z":-0.5},{"i":12,"j":20,"z":-0.6},{"i":11,"j":20,"z":-0.8},{"i":10,"j":20,"z":-0.8},{"i":9,"j":20,"z":-0.8},{"i":8,"j":20,"z":-0.8},{"i":7,"j":20,"z":-0.6},{"i":6,"j":20,"z":-0.5},{"i":5,"j":20,"z":-0.3},{"i":4,"j":20,"z":-0.2},{"i":3,"j":20,"z":-0.1},{"i":2,"j":20,"z":-0.1},{"i":1,"j":20,"z":0},{"i":0,"j":20,"z":0},
{"i":32,"j":21,"z":0},{"i":31,"j":21,"z":0},{"i":30,"j":21,"z":0},{"i":29,"j":21,"z":0},{"i":28,"j":21,"z":0},{"i":27,"j":21,"z":0},{"i":26,"j":21,"z":0},{"i":25,"j":21,"z":0},{"i":24,"j":21,"z":0},{"i":23,"j":21,"z":0.1},{"i":22,"j":21,"z":0.1},{"i":21,"j":21,"z":0.1},{"i":20,"j":21,"z":0.1},{"i":19,"j":21,"z":0.1},{"i":18,"j":21,"z":0.1},{"i":17,"j":21,"z":0},{"i":16,"j":21,"z":0},{"i":15,"j":21,"z":-0.1},{"i":14,"j":21,"z":-0.2},{"i":13,"j":21,"z":-0.2},{"i":12,"j":21,"z":-0.3},{"i":11,"j":21,"z":-0.4},{"i":10,"j":21,"z":-0.4},{"i":9,"j":21,"z":-0.4},{"i":8,"j":21,"z":-0.3},{"i":7,"j":21,"z":-0.3},{"i":6,"j":21,"z":-0.2},{"i":5,"j":21,"z":-0.1},{"i":4,"j":21,"z":-0.1},{"i":3,"j":21,"z":0},{"i":2,"j":21,"z":0},{"i":1,"j":21,"z":0},{"i":0,"j":21,"z":0},
{"i":32,"j":22,"z":0},{"i":31,"j":22,"z":0},{"i":30,"j":22,"z":0},{"i":29,"j":22,"z":0},{"i":28,"j":22,"z":0},{"i":27,"j":22,"z":0},{"i":26,"j":22,"z":0},{"i":25,"j":22,"z":0},{"i":24,"j":22,"z":0},{"i":23,"j":22,"z":0},{"i":22,"j":22,"z":0},{"i":21,"j":22,"z":0},{"i":20,"j":22,"z":0},{"i":19,"j":22,"z":0},{"i":18,"j":22,"z":0},{"i":17,"j":22,"z":0},{"i":16,"j":22,"z":0},{"i":15,"j":22,"z":0},{"i":14,"j":22,"z":-0.1},{"i":13,"j":22,"z":-0.1},{"i":12,"j":22,"z":-0.1},{"i":11,"j":22,"z":-0.2},{"i":10,"j":22,"z":-0.2},{"i":9,"j":22,"z":-0.2},{"i":8,"j":22,"z":-0.1},{"i":7,"j":22,"z":-0.1},{"i":6,"j":22,"z":-0.1},{"i":5,"j":22,"z":0},{"i":4,"j":22,"z":0},{"i":3,"j":22,"z":0},{"i":2,"j":22,"z":0},{"i":1,"j":22,"z":0},{"i":0,"j":22,"z":0},
{"i":32,"j":23,"z":0},{"i":31,"j":23,"z":0},{"i":30,"j":23,"z":0},{"i":29,"j":23,"z":0},{"i":28,"j":23,"z":0},{"i":27,"j":23,"z":0},{"i":26,"j":23,"z":0},{"i":25,"j":23,"z":0},{"i":24,"j":23,"z":0},{"i":23,"j":23,"z":0},{"i":22,"j":23,"z":0},{"i":21,"j":23,"z":0},{"i":20,"j":23,"z":0},{"i":19,"j":23,"z":0},{"i":18,"j":23,"z":0},{"i":17,"j":23,"z":0},{"i":16,"j":23,"z":0},{"i":15,"j":23,"z":0},{"i":14,"j":23,"z":0},{"i":13,"j":23,"z":0},{"i":12,"j":23,"z":-0.1},{"i":11,"j":23,"z":-0.1},{"i":10,"j":23,"z":-0.1},{"i":9,"j":23,"z":-0.1},{"i":8,"j":23,"z":-0.1},{"i":7,"j":23,"z":0},{"i":6,"j":23,"z":0},{"i":5,"j":23,"z":0},{"i":4,"j":23,"z":0},{"i":3,"j":23,"z":0},{"i":2,"j":23,"z":0},{"i":1,"j":23,"z":0},{"i":0,"j":23,"z":0},
{"i":32,"j":24,"z":0},{"i":31,"j":24,"z":0},{"i":30,"j":24,"z":0},{"i":29,"j":24,"z":0},{"i":28,"j":24,"z":0},{"i":27,"j":24,"z":0},{"i":26,"j":24,"z":0},{"i":25,"j":24,"z":0},{"i":24,"j":24,"z":0},{"i":23,"j":24,"z":0},{"i":22,"j":24,"z":0},{"i":21,"j":24,"z":0},{"i":20,"j":24,"z":0},{"i":19,"j":24,"z":0},{"i":18,"j":24,"z":0},{"i":17,"j":24,"z":0},{"i":16,"j":24,"z":0},{"i":15,"j":24,"z":0},{"i":14,"j":24,"z":0},{"i":13,"j":24,"z":0},{"i":12,"j":24,"z":0},{"i":11,"j":24,"z":0},{"i":10,"j":24,"z":0},{"i":9,"j":24,"z":0},{"i":8,"j":24,"z":0},{"i":7,"j":24,"z":0},{"i":6,"j":24,"z":0},{"i":5,"j":24,"z":0},{"i":4,"j":24,"z":0},{"i":3,"j":24,"z":0},{"i":2,"j":24,"z":0},{"i":1,"j":24,"z":0},{"i":0,"j":24,"z":0}
],
"cbticks":[{"t":-15},{"t":-10},{"t":-5},{"t":0},{"t":5},{"t":10},{"t":15}]
},
"layer":[
{"data":{"name":"frame"},"transform":[{"filter":"datum.kind=='grid'"},{"calculate":"72+330*(datum.lon1-56.8)/0.5+253*(25.2-datum.lat1)/0.4","as":"sx"},{"calculate":"433-98*(datum.lon1-56.8)/0.5+130*(25.2-datum.lat1)/0.4-6.875*(datum.z1+20)","as":"sy"},{"calculate":"72+330*(datum.lon2-56.8)/0.5+253*(25.2-datum.lat2)/0.4","as":"sx2"},{"calculate":"433-98*(datum.lon2-56.8)/0.5+130*(25.2-datum.lat2)/0.4-6.875*(datum.z2+20)","as":"sy2"}],
"mark":{"type":"rule","color":"#e3e3e3","strokeWidth":1},
"encoding":{"x":{"field":"sx","type":"quantitative","scale":{"domain":[0,685],"nice":false},"axis":null},"y":{"field":"sy","type":"quantitative","scale":{"domain":[0,584],"reverse":true,"nice":false},"axis":null},"x2":{"field":"sx2"},"y2":{"field":"sy2"}}},
{"data":{"name":"frame"},"transform":[{"filter":"datum.kind=='axis'"},{"calculate":"72+330*(datum.lon1-56.8)/0.5+253*(25.2-datum.lat1)/0.4","as":"sx"},{"calculate":"433-98*(datum.lon1-56.8)/0.5+130*(25.2-datum.lat1)/0.4-6.875*(datum.z1+20)","as":"sy"},{"calculate":"72+330*(datum.lon2-56.8)/0.5+253*(25.2-datum.lat2)/0.4","as":"sx2"},{"calculate":"433-98*(datum.lon2-56.8)/0.5+130*(25.2-datum.lat2)/0.4-6.875*(datum.z2+20)","as":"sy2"}],
"mark":{"type":"rule","color":"#6e6e6e","strokeWidth":1},
"encoding":{"x":{"field":"sx","type":"quantitative","scale":{"domain":[0,685],"nice":false},"axis":null},"y":{"field":"sy","type":"quantitative","scale":{"domain":[0,584],"reverse":true,"nice":false},"axis":null},"x2":{"field":"sx2"},"y2":{"field":"sy2"}}},
{"data":{"name":"surface"},"transform":[{"calculate":"72+330*(datum.i/32)+253*(0.105+0.79*datum.j/24)","as":"sx"},{"calculate":"433-98*(datum.i/32)+130*(0.105+0.79*datum.j/24)-6.875*(datum.z+20)","as":"sy"},{"calculate":"[datum.i,datum.i-1,datum.i-1,datum.i,datum.i]","as":"ci"},{"calculate":"[datum.j,datum.j,datum.j-1,datum.j-1,datum.j]","as":"cj"},{"calculate":"[0,1,2,3,4]","as":"o"},{"flatten":["ci","cj","o"]},{"filter":"datum.ci>=0&&datum.ci<32&&datum.cj>=0&&datum.cj<24"},{"calculate":"datum.cj*100+datum.ci","as":"cid"},{"joinaggregate":[{"op":"mean","field":"z","as":"zm"}],"groupby":["cid"]}],
"mark":{"type":"line","filled":true,"stroke":"#141414","strokeWidth":0.8,"strokeOpacity":0.9,"strokeJoin":"round"},
"encoding":{"x":{"field":"sx","type":"quantitative","scale":{"domain":[0,685],"nice":false},"axis":null},"y":{"field":"sy","type":"quantitative","scale":{"domain":[0,584],"reverse":true,"nice":false},"axis":null},"detail":{"field":"cid","type":"nominal"},"order":{"field":"o","type":"quantitative"},
"fill":{"field":"zm","type":"quantitative","scale":{"type":"linear","domain":[-16.85,-15,-10,-5,-2,0,3,5,7.5,10,12.5,15],"range":["#3b2a9c","#4332b4","#3672f8","#1f9ee0","#08b8c4","#2fbc9f","#6ccc6c","#9cc84a","#dcb830","#fdb638","#fcd424","#f8fb14"],"clamp":true},
"legend":{"orient":"none","direction":"horizontal","legendX":91,"legendY":2,"title":null,"gradientLength":499,"gradientThickness":21,"gradientStrokeColor":"#666666","gradientStrokeWidth":1,"values":[-15,-10,-5,0,5,10,15],"labelExpr":"'' + datum.value","labelFont":"Liberation Serif","labelFontSize":22,"labelColor":"#222222","labelOffset":8,"labelAlign":"center","labelOverlap":false,"labelLimit":0,"labelFlush":false}}}},
{"data":{"name":"cbticks"},"transform":[{"calculate":"355+15.62*datum.t","as":"sx"},{"calculate":"23","as":"sy"},{"calculate":"20","as":"sy2"}],
"mark":{"type":"rule","color":"#555555","strokeWidth":1},
"encoding":{"x":{"field":"sx","type":"quantitative","scale":{"domain":[0,685],"nice":false},"axis":null},"y":{"field":"sy","type":"quantitative","scale":{"domain":[0,584],"reverse":true,"nice":false},"axis":null},"y2":{"field":"sy2"}}},
{"data":{"name":"labels"},"transform":[{"calculate":"72+330*(datum.lon-56.8)/0.5+253*(25.2-datum.lat)/0.4","as":"sx"},{"calculate":"433-98*(datum.lon-56.8)/0.5+130*(25.2-datum.lat)/0.4-6.875*(datum.h+20)","as":"sy"}],
"mark":{"type":"text","align":"center","baseline":"middle","fontSize":21},
"encoding":{"x":{"field":"sx","type":"quantitative","scale":{"domain":[0,685],"nice":false},"axis":null},"y":{"field":"sy","type":"quantitative","scale":{"domain":[0,584],"reverse":true,"nice":false},"axis":null},"text":{"field":"t"}}},
{"data":{"name":"titles"},"transform":[{"calculate":"72+330*(datum.lon-56.8)/0.5+253*(25.2-datum.lat)/0.4","as":"sx"},{"calculate":"433-98*(datum.lon-56.8)/0.5+130*(25.2-datum.lat)/0.4-6.875*(datum.h+20)","as":"sy"}],
"mark":{"type":"text","align":"center","baseline":"middle","fontSize":24},
"encoding":{"x":{"field":"sx","type":"quantitative","scale":{"domain":[0,685],"nice":false},"axis":null},"y":{"field":"sy","type":"quantitative","scale":{"domain":[0,584],"reverse":true,"nice":false},"axis":null},"text":{"field":"t"}}},
{"data":{"name":"zlabels"},"transform":[{"calculate":"72+330*(datum.lon-56.8)/0.5+253*(25.2-datum.lat)/0.4","as":"sx"},{"calculate":"433-98*(datum.lon-56.8)/0.5+130*(25.2-datum.lat)/0.4-6.875*(datum.h+20)","as":"sy"}],
"mark":{"type":"text","align":"right","baseline":"middle","fontSize":21},
"encoding":{"x":{"field":"sx","type":"quantitative","scale":{"domain":[0,685],"nice":false},"axis":null},"y":{"field":"sy","type":"quantitative","scale":{"domain":[0,584],"reverse":true,"nice":false},"axis":null},"text":{"field":"t"}}},
{"data":{"name":"ztitle"},"transform":[{"calculate":"72+330*(datum.lon-56.8)/0.5+253*(25.2-datum.lat)/0.4","as":"sx"},{"calculate":"433-98*(datum.lon-56.8)/0.5+130*(25.2-datum.lat)/0.4-6.875*(datum.h+20)","as":"sy"}],
"mark":{"type":"text","align":"center","baseline":"middle","angle":270,"fontSize":24},
"encoding":{"x":{"field":"sx","type":"quantitative","scale":{"domain":[0,685],"nice":false},"axis":null},"y":{"field":"sy","type":"quantitative","scale":{"domain":[0,584],"reverse":true,"nice":false},"axis":null},"text":{"field":"t"}}}
]}
